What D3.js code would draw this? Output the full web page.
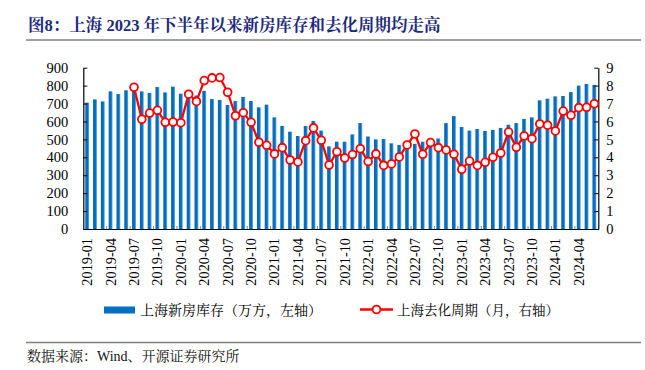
<!DOCTYPE html>
<html>
<head>
<meta charset="utf-8">
<script src="https://cdn.jsdelivr.net/npm/d3@7"></script>
<style>
  body { margin: 0; background: #fff; }
  svg { display: block; }
</style>
</head>
<body>
<div id="chart"></div>
<script>
// months, 2019-01 .. 2024-06
const months = [
  "2019-01","2019-02","2019-03","2019-04","2019-05","2019-06","2019-07","2019-08","2019-09","2019-10","2019-11","2019-12",
  "2020-01","2020-02","2020-03","2020-04","2020-05","2020-06","2020-07","2020-08","2020-09","2020-10","2020-11","2020-12",
  "2021-01","2021-02","2021-03","2021-04","2021-05","2021-06","2021-07","2021-08","2021-09","2021-10","2021-11","2021-12",
  "2022-01","2022-02","2022-03","2022-04","2022-05","2022-06","2022-07","2022-08","2022-09","2022-10","2022-11","2022-12",
  "2023-01","2023-02","2023-03","2023-04","2023-05","2023-06","2023-07","2023-08","2023-09","2023-10","2023-11","2023-12",
  "2024-01","2024-02","2024-03","2024-04","2024-05","2024-06"
];

// 上海新房库存（万方）
const inventory = [
  705, 723, 712, 768, 753, 774, 785, 768, 759, 792,
  762, 794, 755, 750, 745, 771, 725, 720, 692, 714,
  737, 714, 679, 694, 623, 575, 543, 519, 575, 603,
  549, 461, 487, 487, 528, 591, 516, 500, 502, 478,
  469, 465, 475, 487, 490, 505, 591, 630, 569, 549,
  558, 547, 553, 564, 582, 591, 614, 623, 718, 727,
  740, 742, 764, 800, 809, 804
];

// 上海去化周期（月）
const cycle = [
  null, null, null, null, null, null, 7.91, 6.12, 6.47, 6.62,
  5.95, 5.97, 5.93, 7.52, 7.12, 8.28, 8.43, 8.45, 7.63, 6.32,
  6.49, 5.95, 4.84, 4.67, 4.19, 4.54, 3.85, 3.74, 4.93, 5.64,
  4.95, 3.57, 4.31, 3.96, 4.15, 4.48, 3.76, 4.19, 3.55, 3.63,
  4.02, 4.69, 5.30, 4.17, 4.82, 4.54, 4.41, 4.17, 3.33, 3.79,
  3.55, 3.72, 4.00, 4.24, 5.41, 4.56, 5.19, 5.04, 5.86, 5.79,
  5.47, 6.58, 6.34, 6.77, 6.79, 6.99
];

const leftTicks = [0, 100, 200, 300, 400, 500, 600, 700, 800, 900];
const rightTicks = [0, 1, 2, 3, 4, 5, 6, 7, 8, 9];
const xLabels = months.filter((d, i) => i % 3 == 0);

const title = "图8：上海 2023 年下半年以来新房库存和去化周期均走高";
const legendNames = ["上海新房库存（万方，左轴）", "上海去化周期（月，右轴）"];
const source = "数据来源：Wind、开源证券研究所";

const W = 645, H = 370;
const plot = {left: 83.3, right: 598.3, top: 67.7, bottom: 229};
const FONT = "'Liberation Serif', 'Noto Serif CJK SC', 'Noto Sans CJK SC', serif";
const blue = "#0070C0", red = "#FF0000";

const svg = d3.select("#chart").append("svg")
  .attr("width", W)
  .attr("height", H)
  .style("font-family", FONT);

let defs = svg.append("defs");
let grad = defs.append("linearGradient").attr("id", "barGrad")
  .attr("x1", "0%").attr("x2", "100%").attr("y1", "0%").attr("y2", "0%");
grad.append("stop").attr("offset", "0%").attr("stop-color", "#0868bd");
grad.append("stop").attr("offset", "62%").attr("stop-color", blue);
grad.append("stop").attr("offset", "100%").attr("stop-color", "#7fb2e0");

// title + rules
svg.append("text")
  .attr("x", 28).attr("y", 31)
  .attr("font-size", 16.5)
  .attr("font-weight", "bold")
  .attr("fill", "#1d2a7c")
  .text(title);

svg.append("line")
  .attr("x1", 26).attr("x2", 641).attr("y1", 40).attr("y2", 40)
  .attr("stroke", "#808080").attr("stroke-width", 1.5);

svg.append("line")
  .attr("x1", 26).attr("x2", 641).attr("y1", 342.5).attr("y2", 342.5)
  .attr("stroke", "#808080").attr("stroke-width", 1.5);

svg.append("text")
  .attr("x", 27).attr("y", 361)
  .attr("font-size", 14)
  .attr("fill", "#111")
  .text(source);

// scales
const x = d3.scaleBand().domain(months)
  .range([plot.left, plot.right])
  .paddingInner(0.5).paddingOuter(0.25);
const yL = d3.scaleLinear().domain([0, 900]).range([plot.bottom, plot.top]);
const yR = d3.scaleLinear().domain([0, 9]).range([plot.bottom, plot.top]);
const cx = d => x(d) + x.bandwidth() / 2;

// bars
svg.append("g").attr("id", "bars")
  .selectAll("rect")
  .data(months)
  .enter()
  .append("rect")
    .attr("x", d => x(d))
    .attr("width", x.bandwidth())
    .attr("y", (d, i) => yL(inventory[i]))
    .attr("height", (d, i) => yL(0) - yL(inventory[i]))
    .attr("fill", "url(#barGrad)");

// axes
let gL = svg.append("g")
  .attr("transform", `translate(${plot.left},0)`)
  .call(d3.axisLeft(yL).tickValues(leftTicks).tickSize(-4).tickSizeOuter(0).tickPadding(15));

let gR = svg.append("g")
  .attr("transform", `translate(${plot.right},0)`)
  .call(d3.axisRight(yR).tickValues(rightTicks).tickSize(-4).tickSizeOuter(0).tickPadding(8));

let gB = svg.append("g")
  .attr("transform", `translate(0,${plot.bottom})`)
  .call(d3.axisBottom(x).tickValues(xLabels).tickSize(0).tickSizeOuter(0));

gB.selectAll(".tick text")
  .attr("transform", "rotate(-90)")
  .attr("x", -9)
  .attr("y", 0)
  .attr("dy", "0.35em")
  .attr("text-anchor", "end");

[gL, gR, gB].forEach(g => {
  g.selectAll("text").attr("font-family", FONT).attr("fill", "#000");
  g.selectAll("path.domain").attr("stroke", "#000").attr("stroke-width", 1.2);
  g.selectAll(".tick line").attr("stroke", "#000");
});
gL.selectAll("text").attr("font-size", 14.5);
gR.selectAll("text").attr("font-size", 14.5);
gB.selectAll("text").attr("font-size", 14.3);

// small inward ticks on the x axis, every 3 months at the category boundary
svg.append("g").attr("id", "xticks")
  .selectAll("line")
  .data(months.filter((d, i) => i % 3 == 0 && i > 0))
  .enter()
  .append("line")
    .attr("x1", d => x(d) - x.step() * x.paddingInner() / 2)
    .attr("x2", d => x(d) - x.step() * x.paddingInner() / 2)
    .attr("y1", plot.bottom)
    .attr("y2", plot.bottom - 3)
    .attr("stroke", "#888");

// cycle line
const lineGen = d3.line()
  .defined((d, i) => cycle[i] != null)
  .x(d => cx(d))
  .y((d, i) => yR(cycle[i]));

svg.append("path")
  .datum(months)
  .attr("d", lineGen)
  .attr("fill", "none")
  .attr("stroke", red)
  .attr("stroke-width", 2.3)
  .attr("stroke-linejoin", "round");

svg.append("g").attr("id", "markers")
  .selectAll("circle")
  .data(months.filter((d, i) => cycle[i] != null))
  .enter()
  .append("circle")
    .attr("cx", d => cx(d))
    .attr("cy", d => yR(cycle[months.indexOf(d)]))
    .attr("r", 3.9)
    .attr("fill", "#fff")
    .attr("stroke", red)
    .attr("stroke-width", 1.8);

// legend
let lg = svg.append("g").attr("id", "legend");
lg.append("rect")
  .attr("x", 104).attr("y", 306.5)
  .attr("width", 31).attr("height", 7)
  .attr("fill", blue);
lg.append("text")
  .attr("x", 140).attr("y", 310)
  .attr("dominant-baseline", "central")
  .attr("font-size", 14)
  .text(legendNames[0]);

lg.append("line")
  .attr("x1", 360).attr("x2", 393).attr("y1", 309.5).attr("y2", 309.5)
  .attr("stroke", red).attr("stroke-width", 2.3);
lg.append("circle")
  .attr("cx", 376.5).attr("cy", 309.5).attr("r", 3.9)
  .attr("fill", "#fff").attr("stroke", red).attr("stroke-width", 1.8);
lg.append("text")
  .attr("x", 397).attr("y", 310)
  .attr("dominant-baseline", "central")
  .attr("font-size", 13.5)
  .text(legendNames[1]);
</script>
</body>
</html>
